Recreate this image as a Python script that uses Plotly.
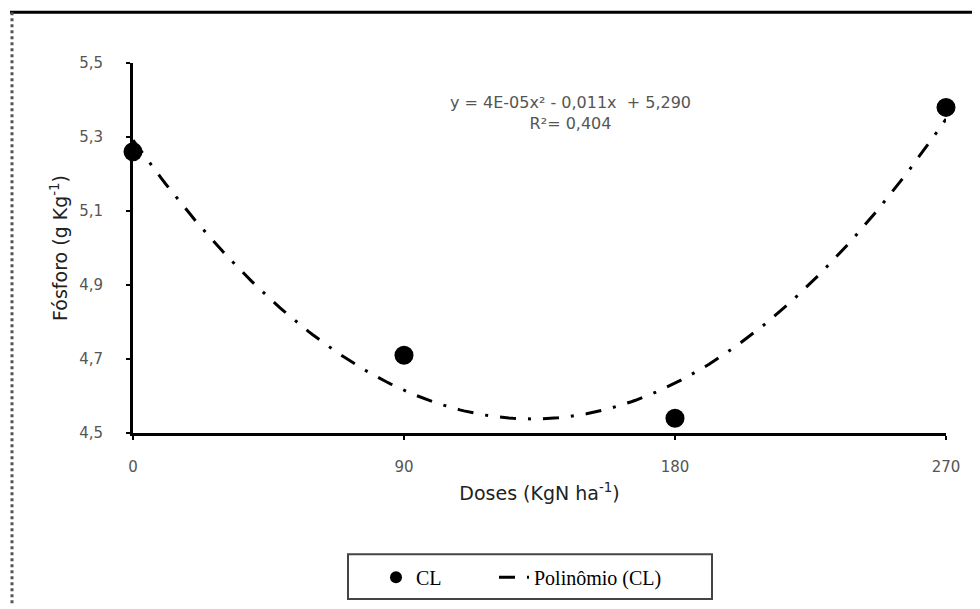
import numpy as np
import plotly.graph_objects as go

# ---- data ----
doses = [0, 90, 180, 270]
fosforo = [5.26, 4.71, 4.54, 5.38]
x_ticks = [0, 90, 180, 270]
y_ticks = [4.5, 4.7, 4.9, 5.1, 5.3, 5.5]
equation_text = "y = 4E-05x² - 0,011x  + 5,290<br>R²= 0,404"
series_name = "CL"
trend_name = "Polinômio (CL)"
x_title = "Doses (KgN ha<sup>-1</sup>)"
y_title = "Fósforo (g Kg<sup>-1</sup>)"

# quadratic trendline fitted to the data
coef = np.polyfit(doses, fosforo, 2)
xs = np.linspace(min(doses), max(doses), 200)
ys = np.polyval(coef, xs)

# the page body has an 8px margin; size the figure so it fits the window
OFF = 8
W, H = 980 - OFF, 609 - OFF
PL, PR, PT, PB = 133, 946, 63, 435          # plot area in page pixels
L, T = PL - OFF, PT - OFF
R, B = 980 - PR, 609 - PB
pw, ph = PR - PL, PB - PT


def px(xp):
    return (xp - PL) / pw


def py(yp):
    return (PB - yp) / ph


fig = go.Figure()
fig.add_trace(go.Scatter(
    x=doses, y=fosforo, mode="markers", name=series_name,
    marker=dict(color="black", size=19, line=dict(width=0)),
    cliponaxis=False, legend="legend",
))
fig.add_trace(go.Scatter(
    x=xs, y=ys, mode="lines", name=trend_name,
    line=dict(color="black", width=3, dash="16px,12px,3px,12px"),
    cliponaxis=False, legend="legend2",
))

tickfont = dict(family="DejaVu Sans", size=15, color="#555")
titlefont = dict(family="DejaVu Sans", size=19, color="#222")
legfont = dict(family="Liberation Serif", size=20, color="black")

fig.update_layout(
    width=W, height=H,
    margin=dict(l=L, r=R, t=T, b=B),
    paper_bgcolor="white", plot_bgcolor="white",
    separators=", ",
    showlegend=True,
    legend=dict(
        orientation="h", x=px(376), xanchor="left",
        y=py(580), yanchor="middle", font=legfont, itemsizing="constant",
        bgcolor="rgba(0,0,0,0)", borderwidth=0,
    ),
    legend2=dict(
        orientation="h", x=px(494), xanchor="left",
        y=py(580), yanchor="middle", font=legfont,
        bgcolor="rgba(0,0,0,0)", borderwidth=0,
    ),
    xaxis=dict(
        range=[0, 270], tickvals=x_ticks, showgrid=False, zeroline=False,
        showline=True, linecolor="black", linewidth=3,
        ticks="outside", ticklen=4, tickwidth=2, tickcolor="black",
        tickfont=tickfont, ticklabelstandoff=14,
        title=dict(text=x_title, font=titlefont, standoff=12),
    ),
    yaxis=dict(
        range=[4.5, 5.5], tickvals=y_ticks, tickformat=".1f",
        showgrid=False, zeroline=False,
        showline=True, linecolor="black", linewidth=3,
        ticks="outside", ticklen=4, tickwidth=2, tickcolor="black",
        tickfont=tickfont, ticklabelstandoff=20,
        title=dict(text=y_title, font=titlefont, standoff=7),
    ),
    annotations=[dict(
        text=equation_text, xref="paper", yref="paper",
        x=px(570), y=py(113), xanchor="center", yanchor="middle",
        showarrow=False, align="center",
        font=dict(family="DejaVu Sans", size=16, color="#555"),
    )],
    shapes=[
        dict(type="line", xref="paper", yref="paper",
             x0=px(10), x1=px(980), y0=py(12), y1=py(12),
             line=dict(color="black", width=3)),
        dict(type="line", xref="paper", yref="paper",
             x0=px(12), x1=px(12), y0=py(12), y1=py(609),
             line=dict(color="#555", width=3, dash="dot")),
        dict(type="rect", xref="paper", yref="paper",
             x0=px(348), x1=px(712), y0=py(557), y1=py(602),
             line=dict(color="#444", width=2)),
    ],
)

fig.write_html("out.html")
